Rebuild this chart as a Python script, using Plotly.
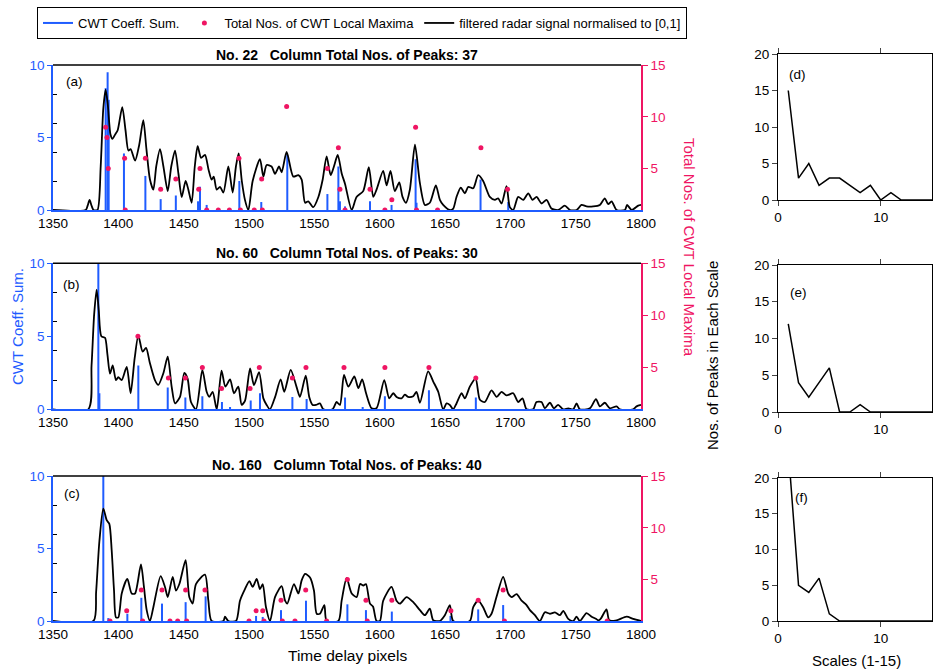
import plotly.graph_objects as go

BLUE = "#1f5cff"
PINK = "#ef1563"
FONT = "Liberation Sans, Arial, sans-serif"

# ---------------- data ----------------
# Panel (a) - column No. 22
a_sig_x = [1350, 1375, 1376.5, 1378, 1379.5, 1381, 1384, 1386.5, 1388.5, 1390.3, 1392, 1394, 1395.5, 1397.5, 1399.5,
           1403, 1405.5, 1407.7, 1409.4, 1412.8, 1416, 1419.1, 1421.5, 1424.2, 1426.8, 1429, 1431.9, 1434.5, 1437.8,
           1440.5, 1443.4, 1446, 1448.5, 1451.5, 1453.6, 1456.1, 1458.5, 1460.7, 1463.3, 1466.3, 1469, 1471.4, 1473,
           1475.3, 1477.8, 1480.4, 1484.2, 1487.5, 1490, 1492.1, 1494.5, 1496.9, 1499.5, 1502.8, 1508.4, 1511, 1513.5,
           1517.3, 1519.9, 1523, 1525, 1528.8, 1533.9, 1537.8, 1540.3, 1542.9, 1545.4, 1549.2, 1553.1, 1556.4, 1559.4,
           1562.5, 1565, 1567.9, 1571, 1573.5, 1578.6, 1582.3, 1587.4, 1591.7, 1595.1, 1597.6, 1602.7, 1605.3, 1608.3,
           1611.6, 1615, 1617.5, 1620.1, 1623.1, 1627, 1630.8, 1634.6, 1638.4, 1643, 1646.1, 1648.6, 1653.7, 1656.3,
           1658.8, 1662.1, 1665.2, 1667.8, 1671.6, 1675.4, 1679.2, 1684.3, 1688.2, 1690.7, 1693.3, 1697.1, 1699.6,
           1702.2, 1706, 1709.9, 1713.7, 1717, 1720.1, 1723.9, 1727.7, 1731.5, 1736.6, 1741.7, 1745.6, 1750.7, 1754.5,
           1758.3, 1763.4, 1768.5, 1772.3, 1774.9, 1777.5, 1781.3, 1787.7, 1789.4, 1792.8, 1797.9, 1800]
a_sig_y = [0, 0, 0.03, 0.07, 0.03, 0, 0, 0.3, 0.7, 0.83, 0.72, 0.52, 0.49, 0.52, 0.55,
           0.71, 0.55, 0.41, 0.42, 0.34, 0.45, 0.62, 0.42, 0.21, 0.14, 0.3, 0.42, 0.3, 0.13,
           0.3, 0.41, 0.25, 0.09, 0.2, 0.14, 0.05, 0.3, 0.44, 0.36, 0.38, 0.28, 0.21, 0.23,
           0.14, 0.16, 0.12, 0.3, 0.12, 0.3, 0.39, 0.2, 0.07, 0, 0.2, 0.35, 0.23, 0.31,
           0.3, 0.25, 0.3, 0.26, 0.4, 0.23, 0.24, 0.21, 0.05, 0.06, 0.02, 0.09, 0.21, 0.37,
           0.24, 0.3, 0.38, 0.25, 0.18, 0, 0.09, 0.13, 0.295, 0.09, 0.14, 0.27, 0.17, 0.27,
           0.13, 0.19, 0.09, 0.05, 0.14, 0.45, 0.185, 0.035, 0.05, 0.17, 0.07, 0.035, 0, 0.01,
           0.09, 0.155, 0.115, 0.16, 0.15, 0.24, 0.2, 0.09, 0.07, 0.08, 0.045, 0.165, 0.02,
           0, 0.09, 0.07, 0.115, 0.07, 0.09, 0.045, 0.07, 0.01, 0, 0.03, 0, 0, 0.035,
           0.025, 0.025, 0.035, 0.08, 0.04, 0.06, 0, 0, 0.035, 0, 0.03, 0.035]
a_cwt_x = [1390.3, 1391.8, 1392.6, 1404.3, 1420.7, 1432.4, 1444, 1461, 1462.5, 1467.6, 1492.6, 1509.4, 1529.3,
           1560, 1568.4, 1569.6, 1573.5, 1592.6, 1609.1, 1627.5, 1628.2, 1677.2, 1698.4]
a_cwt_y = [8.4, 9.5, 7.6, 3.9, 2.35, 0.75, 1.0, 0.6, 1.6, 0.35, 2.0, 0.55, 3.8,
           1.1, 3.0, 0.6, 0.25, 0.6, 0.35, 3.5, 0.5, 2.1, 0.55]
a_max_x = [1390.3, 1391.3, 1392.3, 1404.8, 1405.3, 1420.7, 1432.4, 1444, 1461.5, 1462.5, 1467.6, 1476.5, 1485,
           1492.3, 1493.4, 1504, 1509.7, 1510.2, 1528.8, 1560, 1568.4, 1569.6, 1573.5, 1592.6, 1604, 1609.3,
           1627.5, 1628.2, 1644.3, 1677.5, 1697.9]
a_max_y = [9, 8, 5, 6, 1, 6, 3, 4, 3, 5, 1, 1, 1,
           6, 1, 1, 4, 1, 11, 5, 7, 3, 1, 3, 1, 2,
           9, 1, 1, 7, 3]

# Panel (b) - column No. 60
b_sig_x = [1350, 1377, 1379.5, 1381.5, 1383.4, 1385, 1387, 1389.8, 1391.6, 1393.6, 1395.7, 1398.2, 1400, 1402.6,
           1406.4, 1409.4, 1412.5, 1415.3, 1418.6, 1421.2, 1424.2, 1428, 1430.6, 1434.4, 1437.8, 1440.8, 1443.4,
           1447.2, 1450.5, 1453, 1455.6, 1459.4, 1464.3, 1467.6, 1469.6, 1472.2, 1475.3, 1479, 1481.9, 1485.5,
           1488.5, 1491.8, 1494.4, 1497, 1500.8, 1503.8, 1507.7, 1511, 1513.5, 1516, 1520, 1524.2, 1527, 1531.9,
           1536.5, 1539, 1543.4, 1546.1, 1548.7, 1551.3, 1554.3, 1556.9, 1564, 1567, 1569.6, 1572.7, 1576, 1580.6,
           1583.7, 1586.6, 1589.6, 1593.8, 1597.6, 1603.5, 1607.3, 1610.4, 1612.9, 1616.7, 1619.3, 1621.8, 1625.7,
           1628.2, 1630.8, 1637.1, 1641, 1644.8, 1648.6, 1651.2, 1653.7, 1656.3, 1658.8, 1662.7, 1665.2, 1669,
           1673.4, 1676.7, 1680.5, 1685.6, 1689.5, 1693.3, 1697.1, 1702.2, 1706, 1709.3, 1712.4, 1717.5, 1720,
           1723.9, 1726.4, 1730.3, 1733.3, 1736.6, 1740.5, 1744.3, 1748.1, 1750.7, 1753.2, 1760.9, 1765.5, 1768.5,
           1772.3, 1776.2, 1781.3, 1783.8, 1794, 1796.6, 1800]
b_sig_y = [0, 0, 0.3, 0.65, 0.82, 0.68, 0.5, 0.49, 0.38, 0.245, 0.3, 0.2, 0.22, 0.2,
           0.29, 0.11, 0.35, 0.505, 0.395, 0.42, 0.315, 0.2, 0.167, 0.245, 0.36, 0.155, 0.04,
           0.085, 0.25, 0.21, 0.05, 0, 0.27, 0.12, 0.085, 0.12, 0, 0.265, 0.155, 0.205,
           0.11, 0.155, 0.03, 0.06, 0.28, 0.165, 0.255, 0.075, 0.03, 0, 0.085, 0.205, 0.12, 0.27,
           0.15, 0.085, 0.23, 0.085, 0.03, 0.03, 0.04, 0, 0, 0.05, 0.03, 0.235, 0.155, 0.225,
           0.145, 0.205, 0.11, 0.007, 0.007, 0.2, 0.075, 0.11, 0.085, 0.075, 0.1, 0.085, 0.09,
           0.12, 0.045, 0.26, 0.19, 0.12, 0, 0.04, 0.03, 0, 0.04, 0.11, 0.075, 0.155,
           0.21, 0.065, 0.05, 0.13, 0.085, 0.12, 0.095, 0.11, 0.05, 0.075, 0, 0, 0.05,
           0.05, 0.007, 0.045, 0.007, 0.03, 0, 0.007, 0, 0.04, 0, 0.007, 0.07, 0.02,
           0.045, 0.007, 0.02, 0, 0, 0.02, 0.03]
b_cwt_x = [1384.7, 1385.5, 1415.3, 1437.8, 1451.3, 1464.3, 1479.3, 1485.5, 1501.3, 1508.4, 1533.2, 1544.1,
           1573.5, 1587, 1604, 1637.7, 1673.6]
b_cwt_y = [10.2, 1.1, 3.0, 1.5, 0.8, 0.9, 0.5, 0.15, 0.6, 1.1, 0.85, 0.7,
           0.8, 0.15, 0.9, 1.3, 0.8]
b_max_x = [1415, 1438.3, 1451.3, 1464.3, 1479, 1500.8, 1507.9, 1533.2, 1543.6, 1572.7, 1604, 1637.7, 1673.6]
b_max_y = [8, 4, 4, 5, 3, 3, 5, 4, 5, 5, 5, 5, 4]

# Panel (c) - column No. 160
c_sig_x = [1350, 1380.9, 1383, 1385.5, 1388.5, 1391.1, 1393.1, 1394.9, 1396.7, 1398.2, 1400, 1402.6, 1406.9,
           1410.2, 1412.8, 1417.3, 1419.6, 1421.7, 1424.2, 1426.8, 1432.4, 1435.7, 1437.8, 1441.6, 1444.1, 1446.7,
           1451.5, 1454.3, 1456.9, 1459.4, 1466.3, 1468.9, 1471.4, 1480.4, 1481.6, 1484.2, 1490.1, 1493.1, 1496.9,
           1500.3, 1502.8, 1505.9, 1508.4, 1510.5, 1513, 1516.1, 1519.9, 1525, 1527.6, 1529.3, 1534.4, 1537.8,
           1540.3, 1542.9, 1546.7, 1549.7, 1551.8, 1554.3, 1557.7, 1559.4, 1568.4, 1570.9, 1574.7, 1578.6, 1582.4,
           1585, 1587.5, 1589.5, 1592.6, 1594.9, 1597.6, 1600.2, 1602.7, 1609.1, 1612.9, 1615.5, 1620.6, 1625.7,
           1630.8, 1634.6, 1638.4, 1641, 1646, 1649.9, 1653.7, 1656.3, 1669, 1671.6, 1675.4, 1679.2, 1683, 1685.6,
           1689.4, 1694.5, 1698.4, 1700.9, 1704.8, 1708.6, 1712.4, 1715, 1718.8, 1722.6, 1726.4, 1730.3, 1734.1,
           1737.9, 1740.5, 1744.3, 1748.1, 1750.7, 1753.2, 1758.3, 1762.2, 1765.5, 1767.3, 1769.1, 1773.6, 1775.7,
           1781.3, 1789, 1794, 1800]
c_sig_y = [0, 0, 0.2, 0.55, 0.775, 0.695, 0.67, 0.49, 0.21, 0.025, 0.025, 0.19, 0.29,
           0.19, 0.19, 0.39, 0.235, 0.075, 0, 0.095, 0.31, 0.235, 0.165, 0.305, 0.21, 0.255,
           0.42, 0.165, 0.12, 0.255, 0.32, 0.14, 0, 0, 0.03, 0, 0, 0.14, 0.22,
           0.275, 0.235, 0.29, 0.22, 0.255, 0.095, 0, 0.165, 0.24, 0.14, 0.12, 0.255, 0.19,
           0.28, 0.325, 0.3, 0.21, 0.05, 0.05, 0.11, 0, 0, 0.14, 0.295, 0.19, 0.165,
           0.255, 0.245, 0.255, 0.12, 0.1, 0, 0, 0.14, 0.235, 0.14, 0.12, 0.165, 0.13,
           0.075, 0.04, 0.085, 0.005, 0, 0.04, 0.11, 0, 0, 0.095, 0.14, 0.095, 0.025, 0.05,
           0.165, 0.305, 0.19, 0.165, 0.185, 0.14, 0.11, 0.075, 0.04, 0, 0.06, 0.05, 0.06,
           0.04, 0.07, 0.015, 0, 0.03, 0, 0.055, 0.03, 0.015, 0.005, 0.015, 0.08, 0.005,
           0.005, 0.03, 0.015, 0]
c_cwt_x = [1388.5, 1392.3, 1406.9, 1417.6, 1433.4, 1451.5, 1466.8, 1505.4, 1510.5, 1524.5, 1543.6, 1575.3,
           1589.5, 1609.3, 1654.2, 1675.4, 1694.5]
c_cwt_y = [10.2, 0.2, 0.5, 1.6, 1.2, 1.3, 1.7, 0.35, 0.28, 0.75, 1.4, 1.15,
           0.75, 0.65, 0.35, 0.8, 1.1]
c_max_x = [1393.6, 1406.4, 1417.6, 1418.6, 1433.4, 1439.5, 1445.4, 1451.5, 1452.3, 1466.3, 1500, 1505.4, 1510.5,
           1511.5, 1524.5, 1525.5, 1535.2, 1543.4, 1559.4, 1575.3, 1589.5, 1590.5, 1609.3, 1654.5, 1675.4,
           1694.5, 1695.5, 1774.1]
c_max_y = [1, 2, 4, 1, 4, 1, 1, 4, 1, 4, 1, 2, 2,
           1, 3, 1, 1, 4, 1, 5, 3, 1, 3, 2, 3,
           4, 1, 1]

# Right panels: number of peaks in each scale
scales = list(range(1, 16))
d_peaks = [15, 3, 5, 2, 3, 3, 2, 1, 2, 0, 1, 0, 0, 0, 0]
e_peaks = [12, 4, 2, 4, 6, 0, 0, 1, 0, 0, 0, 0, 0, 0, 0]
f_peaks = [24, 5, 4, 6, 1, 0, 0, 0, 0, 0, 0, 0, 0, 0, 0]

titles = ["No. 22   Column Total Nos. of Peaks: 37",
          "No. 60   Column Total Nos. of Peaks: 30",
          "No. 160   Column Total Nos. of Peaks: 40"]
time_ticks = list(range(1350, 1801, 50))

# ---------------- figure ----------------
W, H = 933, 669
def fx(p):
    return p / W
def fy(p):
    return 1 - p / H

def stems(xs, vs):
    sx, sy = [], []
    for x, v in zip(xs, vs):
        sx += [x, x, None]
        sy += [0, v, None]
    return sx, sy

fig = go.Figure()

left_panels = [
    (a_sig_x, a_sig_y, a_cwt_x, a_cwt_y, a_max_x, a_max_y, 65, 210),
    (b_sig_x, b_sig_y, b_cwt_x, b_cwt_y, b_max_x, b_max_y, 263.3, 409.3),
    (c_sig_x, c_sig_y, c_cwt_x, c_cwt_y, c_max_x, c_max_y, 476, 621),
]
labels_left = [("(a)", 74.5, 81.5), ("(b)", 71, 284), ("(c)", 71.5, 494)]
title_y = [55, 253, 465]

layout_axes = {}
shapes = []
annotations = []
tickfont = dict(family=FONT, size=13.5, color="black")

for i, (sx, sy, cx, cy, mx, my, top, bot) in enumerate(left_panels):
    xn = i + 1
    yb, ys, yp = 3 * i + 1, 3 * i + 2, 3 * i + 3
    xname = "x" if xn == 1 else f"x{xn}"
    ybname = "y" if yb == 1 else f"y{yb}"
    first = (i == 0)
    stx, sty = stems(cx, cy)
    fig.add_trace(go.Scatter(x=stx, y=sty, mode="lines", line=dict(color=BLUE, width=2),
                             name="CWT Coeff. Sum.", showlegend=first, legendrank=1,
                             xaxis=xname, yaxis=ybname, hoverinfo="skip"))
    fig.add_trace(go.Scatter(x=sx, y=sy, mode="lines", line=dict(color="black", width=1.8, shape="spline", smoothing=0.7),
                             name="filtered radar signal normalised to [0,1]", showlegend=first, legendrank=3,
                             xaxis=xname, yaxis=f"y{ys}"))
    fig.add_trace(go.Scatter(x=mx, y=my, mode="markers", marker=dict(color=PINK, size=5),
                             name="Total Nos. of CWT Local Maxima", showlegend=first, legendrank=2,
                             xaxis=xname, yaxis=f"y{yp}"))
    dom = [fy(bot), fy(top)]
    xkey = "xaxis" if xn == 1 else f"xaxis{xn}"
    layout_axes[xkey] = dict(domain=[fx(53), fx(641)], range=[1350, 1800], tickvals=time_ticks,
                             anchor=ybname, showline=True, linecolor=BLUE, linewidth=1.5, ticks="",
                             tickfont=tickfont, showgrid=False, zeroline=False, automargin=False)
    ykey = "yaxis" if yb == 1 else f"yaxis{yb}"
    layout_axes[ykey] = dict(domain=dom, anchor=xname, range=[0, 10], tickvals=[0, 5, 10],
                             tickfont=dict(family=FONT, size=13.5, color=BLUE), showline=True,
                             linecolor=BLUE, linewidth=1.5, ticks="outside", ticklen=4, tickcolor=BLUE,
                             showgrid=False, zeroline=False, automargin=False)
    layout_axes[f"yaxis{ys}"] = dict(overlaying=ybname, anchor=xname, range=[0, 1],
                                     tickvals=[0.2, 0.4, 0.6, 0.8], ticks="inside", ticklen=4,
                                     tickcolor="black", showticklabels=False, showline=False,
                                     showgrid=False, zeroline=False, automargin=False)
    layout_axes[f"yaxis{yp}"] = dict(overlaying=ybname, anchor=xname, side="right", range=[1, 15],
                                     tickvals=[5, 10, 15], ticks="outside", ticklen=5, tickcolor=PINK,
                                     tickfont=dict(family=FONT, size=13.5, color=PINK), showline=True,
                                     linecolor=PINK, linewidth=1.5, showgrid=False, zeroline=False,
                                     automargin=False)
    shapes.append(dict(type="line", xref=f"{xname} domain", yref=f"{ybname} domain",
                       x0=0, x1=1, y0=1, y1=1, line=dict(color="black", width=1.5)))
    annotations.append(dict(text=f"<b>{titles[i].replace(' ', '&nbsp;')}</b>", x=fx(347), y=fy(title_y[i]),
                            xref="paper", yref="paper", showarrow=False, xanchor="center", yanchor="middle",
                            font=dict(family=FONT, size=14, color="black")))
    lab, lx, ly = labels_left[i]
    annotations.append(dict(text=lab, x=fx(lx), y=fy(ly), xref="paper", yref="paper", showarrow=False,
                            xanchor="center", yanchor="middle", font=dict(family=FONT, size=13.5, color="black")))

right_panels = [(d_peaks, 54, 200, "(d)", 797, 74), (e_peaks, 265, 412, "(e)", 798, 292),
                (f_peaks, 478, 621, "(f)", 801, 497)]
for j, (vals, top, bot, lab, lx, ly) in enumerate(right_panels):
    xn = 4 + j
    yn = 10 + j
    fig.add_trace(go.Scatter(x=scales, y=vals, mode="lines", line=dict(color="black", width=1.5),
                             showlegend=False, xaxis=f"x{xn}", yaxis=f"y{yn}"))
    layout_axes[f"xaxis{xn}"] = dict(domain=[fx(778), fx(932)], range=[0, 15], tickvals=[0, 10],
                                     anchor=f"y{yn}", showline=True, mirror="ticks", linecolor="black",
                                     linewidth=1.2, ticks="outside", ticklen=5, tickfont=tickfont,
                                     showgrid=False, zeroline=False, automargin=False)
    layout_axes[f"yaxis{yn}"] = dict(domain=[fy(bot), fy(top)], range=[0, 20], tickvals=[0, 5, 10, 15, 20],
                                     anchor=f"x{xn}", showline=True, mirror="ticks", linecolor="black",
                                     linewidth=1.2, ticks="outside", ticklen=5, tickfont=tickfont,
                                     showgrid=False, zeroline=False, automargin=False)
    annotations.append(dict(text=lab, x=fx(lx), y=fy(ly), xref="paper", yref="paper", showarrow=False,
                            xanchor="center", yanchor="middle", font=dict(family=FONT, size=13.5, color="black")))

annotations += [
    dict(text="CWT Coeff. Sum.", x=fx(17), y=fy(327), textangle=-90,
         font=dict(family=FONT, size=15, color=BLUE)),
    dict(text="Total Nos. of CWT Local Maxima", x=fx(690), y=fy(247), textangle=90,
         font=dict(family=FONT, size=15, color=PINK)),
    dict(text="Nos. of Peaks in Each Scale", x=fx(712), y=fy(356), textangle=-90,
         font=dict(family=FONT, size=15, color="black")),
    dict(text="Time delay pixels", x=fx(347), y=fy(655),
         font=dict(family=FONT, size=15.5, color="black")),
    dict(text="Scales (1-15)", x=fx(856), y=fy(660),
         font=dict(family=FONT, size=15, color="black")),
]
for an in annotations[-5:]:
    an.update(xref="paper", yref="paper", showarrow=False, xanchor="center", yanchor="middle")

fig.update_layout(
    width=W, height=H, margin=dict(l=0, r=0, t=0, b=0, autoexpand=False),
    paper_bgcolor="white", plot_bgcolor="white",
    font=dict(family=FONT, size=13, color="black"),
    showlegend=True,
    legend=dict(orientation="h", x=fx(37), y=fy(7), xanchor="left", yanchor="top",
                bordercolor="black", borderwidth=1, bgcolor="white", itemwidth=30,
                font=dict(family=FONT, size=13, color="black"), traceorder="normal"),
    shapes=shapes, annotations=annotations,
    **layout_axes,
)

fig.write_html("out.html")
